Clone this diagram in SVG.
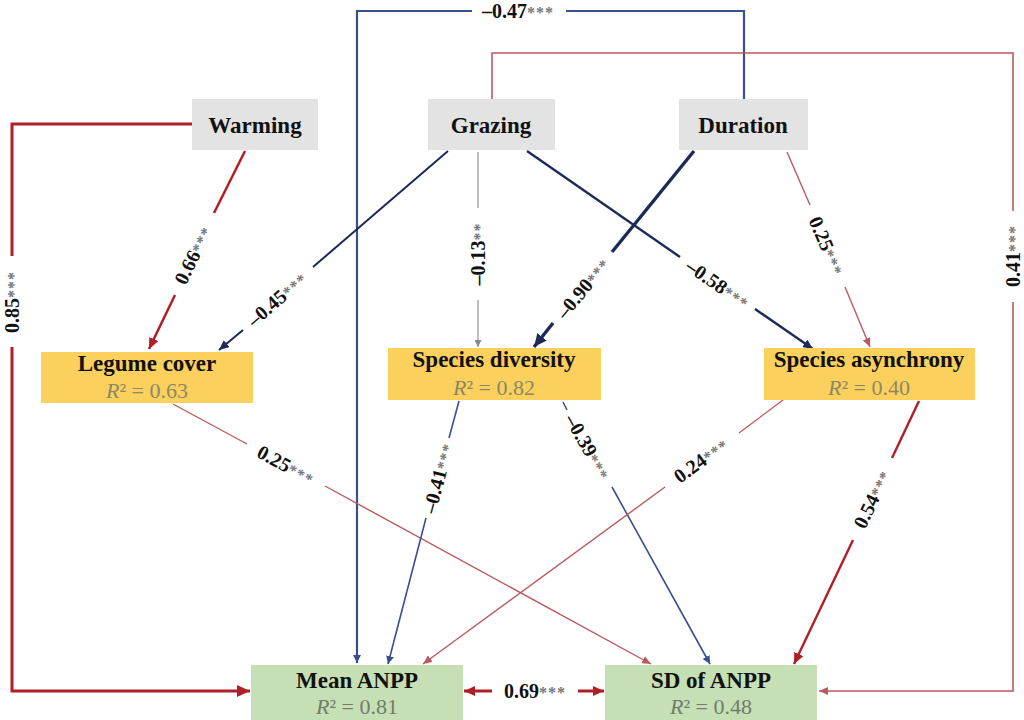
<svg xmlns="http://www.w3.org/2000/svg" width="1024" height="720" viewBox="0 0 1024 720">
<style>
.node-g{fill:#e3e3e3}
.node-y{fill:#fbd05c}
.node-gr{fill:#c6dfb4}
.title{font-family:"Liberation Serif",serif;font-weight:bold;font-size:23px;fill:#111;text-anchor:middle}
.r2{font-family:"Liberation Serif",serif;font-size:22px;text-anchor:middle}
.r2y{fill:#8c8866}
.r2g{fill:#717c6c}
.lbl{font-family:"Liberation Serif",serif;font-weight:bold;font-size:20px;fill:#111;text-anchor:middle}
.st{font-size:16px;fill:#777;letter-spacing:1px}
.c{fill:none}
.dred{stroke:#b01e26}
.lred{stroke:#bb5a5e}
.navy{stroke:#1d2a58}
.blue{stroke:#3a4f8d}
.gray{stroke:#a3a3a3}
</style>
<defs>
<marker id="a-dred" markerUnits="userSpaceOnUse" markerWidth="14" markerHeight="12" refX="13" refY="6" orient="auto"><path d="M0,0 L13,6 L0,12 z" fill="#b01e26"/></marker>
<marker id="a-dred-s" markerUnits="userSpaceOnUse" markerWidth="12" markerHeight="10" refX="11" refY="5" orient="auto"><path d="M0,0 L11,5 L0,10 z" fill="#b01e26"/></marker>
<marker id="a-lred" markerUnits="userSpaceOnUse" markerWidth="10" markerHeight="8" refX="9" refY="4" orient="auto"><path d="M0,0 L9,4 L0,8 z" fill="#bb5a5e"/></marker>
<marker id="a-navy" markerUnits="userSpaceOnUse" markerWidth="14" markerHeight="12" refX="13" refY="6" orient="auto"><path d="M0,0 L13,6 L0,12 z" fill="#1d2a58"/></marker>
<marker id="a-navy-s" markerUnits="userSpaceOnUse" markerWidth="11" markerHeight="9" refX="10" refY="4.5" orient="auto"><path d="M0,0 L10,4.5 L0,9 z" fill="#1d2a58"/></marker>
<marker id="a-blue" markerUnits="userSpaceOnUse" markerWidth="9" markerHeight="8" refX="8" refY="4" orient="auto"><path d="M0,0 L8,4 L0,8 z" fill="#3a4f8d"/></marker>
<marker id="a-gray" markerUnits="userSpaceOnUse" markerWidth="8" markerHeight="7" refX="7" refY="3.5" orient="auto"><path d="M0,0 L7,3.5 L0,7 z" fill="#888"/></marker>
</defs>
<rect width="1024" height="720" fill="#fff"/>

<g id="connectors">
  <path class="c blue" stroke-width="2.2" d="M744,99 V11 H566"/>
  <path class="c blue" stroke-width="2.2" d="M472,11 H357 V663" marker-end="url(#a-blue)"/>
  <text class="lbl" x="518" y="11" dy="0.35em">–0.47<tspan class="st">***</tspan></text>
  <path class="c lred" stroke-width="1.6" d="M492,99 V53 H1013 V211"/>
  <path class="c lred" stroke-width="1.6" d="M1013,302 V691 H819" marker-end="url(#a-lred)"/>
  <text class="lbl" transform="translate(1013,256) rotate(-90)" dy="0.35em">0.41<tspan class="st">***</tspan></text>
  <path class="c dred" stroke-width="3" d="M192,124 H12 V256"/>
  <path class="c dred" stroke-width="3" d="M12,347 V691 H250" marker-end="url(#a-dred)"/>
  <text class="lbl" transform="translate(12,302) rotate(-90)" dy="0.35em">0.85<tspan class="st">***</tspan></text>
  <path class="c dred" stroke-width="2.5" d="M245,151 L214,213"/>
  <path class="c dred" stroke-width="2.5" d="M175,295 L149,349" marker-end="url(#a-dred-s)"/>
  <text class="lbl" transform="translate(193,255) rotate(-64)" dy="0.35em">0.66<tspan class="st">***</tspan></text>
  <path class="c navy" stroke-width="2" d="M448,151 L313,267"/>
  <path class="c navy" stroke-width="2" d="M243,330 L219,350" marker-end="url(#a-navy-s)"/>
  <text class="lbl" transform="translate(277,299) rotate(-41)" dy="0.35em">–0.45<tspan class="st">***</tspan></text>
  <path class="c gray" stroke-width="1.4" d="M478,152 V208"/>
  <path class="c gray" stroke-width="1.4" d="M478,300 V347" marker-end="url(#a-gray)"/>
  <text class="lbl" transform="translate(478,254) rotate(-90)" dy="0.35em">–0.13<tspan class="st">**</tspan></text>
  <path class="c navy" stroke-width="2.4" d="M527,151 L680,257"/>
  <path class="c navy" stroke-width="2.4" d="M755,309 L813,349" marker-end="url(#a-navy-s)"/>
  <text class="lbl" transform="translate(718,284) rotate(34.6)" dy="0.35em">–0.58<tspan class="st">***</tspan></text>
  <path class="c navy" stroke-width="3.4" d="M694,151 L612,252"/>
  <path class="c navy" stroke-width="3.4" d="M553,323 L534,347" marker-end="url(#a-navy)"/>
  <text class="lbl" transform="translate(583,288) rotate(-50.5)" dy="0.35em">–0.90<tspan class="st">***</tspan></text>
  <path class="c lred" stroke-width="1.4" d="M787,152 L810,205"/>
  <path class="c lred" stroke-width="1.4" d="M845,287 L870,347" marker-end="url(#a-lred)"/>
  <text class="lbl" transform="translate(827,246) rotate(66.8)" dy="0.35em">0.25<tspan class="st">***</tspan></text>
  <path class="c lred" stroke-width="1.4" d="M173,404 L247,444"/>
  <path class="c lred" stroke-width="1.4" d="M325,486 L651,664" marker-end="url(#a-lred)"/>
  <text class="lbl" transform="translate(286,465) rotate(28.6)" dy="0.35em">0.25<tspan class="st">***</tspan></text>
  <path class="c blue" stroke-width="1.6" d="M459,401 L449,438"/>
  <path class="c blue" stroke-width="1.6" d="M426,518 L388,664" marker-end="url(#a-blue)"/>
  <text class="lbl" transform="translate(438,478) rotate(-75)" dy="0.35em">–0.41<tspan class="st">***</tspan></text>
  <path class="c blue" stroke-width="1.6" d="M563,402 L567,410"/>
  <path class="c blue" stroke-width="1.6" d="M612,487 L710,664" marker-end="url(#a-blue)"/>
  <text class="lbl" transform="translate(588,447) rotate(60.7)" dy="0.35em">–0.39<tspan class="st">***</tspan></text>
  <path class="c lred" stroke-width="1.4" d="M783,400 L739,433"/>
  <path class="c lred" stroke-width="1.4" d="M665,487 L423,664" marker-end="url(#a-lred)"/>
  <text class="lbl" transform="translate(701,460) rotate(-36.2)" dy="0.35em">0.24<tspan class="st">***</tspan></text>
  <path class="c dred" stroke-width="2.4" d="M919,401 L892,458"/>
  <path class="c dred" stroke-width="2.4" d="M853,540 L794,664" marker-end="url(#a-dred-s)"/>
  <text class="lbl" transform="translate(872,499) rotate(-64.4)" dy="0.35em">0.54<tspan class="st">***</tspan></text>
  <path class="c dred" stroke-width="3" d="M492,691 H464" marker-end="url(#a-dred-s)"/>
  <path class="c dred" stroke-width="3" d="M578,691 H604" marker-end="url(#a-dred-s)"/>
  <text class="lbl" x="535" y="691" dy="0.35em">0.69<tspan class="st">***</tspan></text>
</g>

<g id="warming"><rect class="node-g" x="192" y="99" width="126" height="51"/><text class="title" x="255" y="133">Warming</text></g>
<g id="grazing"><rect class="node-g" x="428" y="99" width="127" height="51"/><text class="title" x="491" y="133">Grazing</text></g>
<g id="duration"><rect class="node-g" x="679" y="99" width="129" height="51"/><text class="title" x="743" y="133">Duration</text></g>

<g id="legume"><rect class="node-y" x="41" y="352" width="212" height="51"/><text class="title" x="147" y="371">Legume cover</text><text class="r2 r2y" x="147" y="398"><tspan font-style="italic">R</tspan>² = 0.63</text></g>
<g id="diversity"><rect class="node-y" x="388" y="348" width="213" height="52"/><text class="title" x="494" y="367">Species diversity</text><text class="r2 r2y" x="494" y="395"><tspan font-style="italic">R</tspan>² = 0.82</text></g>
<g id="asynchrony"><rect class="node-y" x="764" y="348" width="211" height="52"/><text class="title" x="869" y="367">Species asynchrony</text><text class="r2 r2y" x="869" y="395"><tspan font-style="italic">R</tspan>² = 0.40</text></g>

<g id="meananpp"><rect class="node-gr" x="251" y="665" width="212" height="55"/><text class="title" x="357" y="688">Mean ANPP</text><text class="r2 r2g" x="357" y="714"><tspan font-style="italic">R</tspan>² = 0.81</text></g>
<g id="sdanpp"><rect class="node-gr" x="605" y="665" width="212" height="55"/><text class="title" x="711" y="688">SD of ANPP</text><text class="r2 r2g" x="711" y="714"><tspan font-style="italic">R</tspan>² = 0.48</text></g>
</svg>
